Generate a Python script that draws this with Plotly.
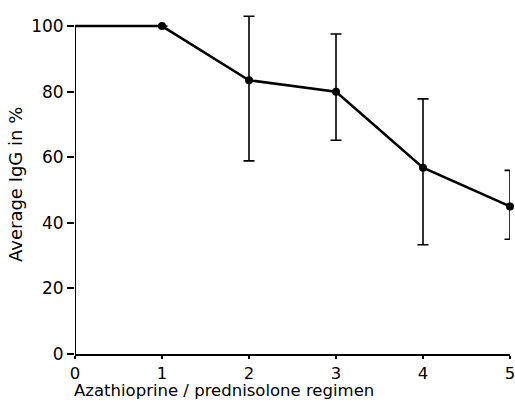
import plotly.graph_objects as go

regimen = [0, 1, 2, 3, 4, 5]
avg_igg = [100, 100, 83.5, 80, 56.8, 45]
err_plus = [0, 0, 19.5, 17.6, 21, 11]
err_minus = [0, 0, 24.6, 14.8, 23.5, 10]
x_ticks = [0, 1, 2, 3, 4, 5]
y_ticks = [0, 20, 40, 60, 80, 100]

font_family = "'DejaVu Sans', sans-serif"

fig = go.Figure()
fig.add_trace(go.Scatter(
    x=regimen, y=avg_igg, mode="lines",
    line=dict(color="black", width=2.5),
    cliponaxis=False, showlegend=False, hoverinfo="skip"))
fig.add_trace(go.Scatter(
    x=regimen[1:], y=avg_igg[1:], mode="markers",
    marker=dict(color="black", size=8),
    error_y=dict(type="data", symmetric=False, array=err_plus[1:],
                 arrayminus=err_minus[1:], color="black", thickness=1.6, width=5.5),
    cliponaxis=False, showlegend=False))

# y-axis line drawn only from 0 to 100
fig.add_shape(type="line", xref="x", yref="y", x0=0, x1=0, y0=0, y1=100,
              line=dict(color="black", width=2))

fig.update_layout(
    width=515, height=403,
    margin=dict(l=75, r=5, t=13, b=49, autoexpand=False),
    paper_bgcolor="white", plot_bgcolor="white",
    font=dict(family=font_family, color="black", size=16),
    xaxis=dict(range=[0, 5], tickvals=x_ticks, ticktext=[str(v) for v in x_ticks],
               showgrid=False, zeroline=False, showline=True, linecolor="black",
               linewidth=2, ticks="outside", ticklen=3, tickwidth=1.5,
               tickcolor="black", tickfont=dict(size=16.5),
               ticklabeloverflow="allow"),
    yaxis=dict(range=[0, 104], tickvals=y_ticks, ticktext=[str(v) for v in y_ticks],
               showgrid=False, zeroline=False, showline=False,
               ticks="outside", ticklen=7, tickwidth=1.5,
               tickcolor="black", tickfont=dict(size=17)),
    annotations=[
        dict(text="Azathioprine / prednisolone regimen", xref="paper", yref="paper",
             x=0, y=0, xshift=-3, yshift=-36, xanchor="left", yanchor="middle",
             showarrow=False, font=dict(size=16.5)),
        dict(text="Average IgG in %", xref="paper", yref="paper",
             x=0, y=0.5, xshift=-60, yshift=-1.5, xanchor="center", yanchor="middle",
             textangle=-90, showarrow=False, font=dict(size=18)),
    ],
)

fig.write_html(
    "out.html",
    config={"displayModeBar": False},
    post_script="document.body.style.margin='0';"
                "document.documentElement.style.overflow='hidden';"
                "document.body.style.overflow='hidden';",
)
